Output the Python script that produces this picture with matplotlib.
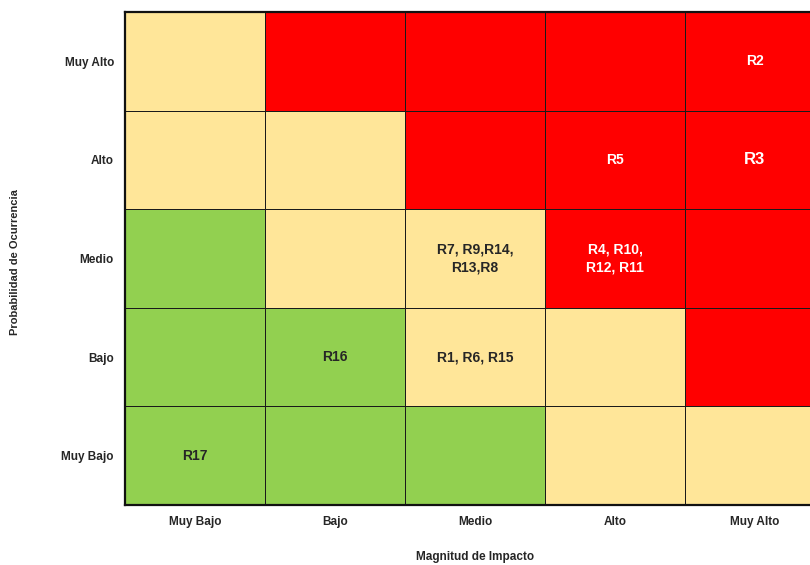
import matplotlib
matplotlib.use("Agg")
import matplotlib.pyplot as plt
from matplotlib.colors import ListedColormap
import numpy as np
from matplotlib import font_manager

names = {f.name for f in font_manager.fontManager.ttflist}
fam = ['Liberation Sans Narrow', 'Liberation Sans', 'DejaVu Sans'] if 'Liberation Sans Narrow' in names else ['Liberation Sans', 'DejaVu Sans']
plt.rcParams['font.family'] = fam

impact_labels = ["Muy Bajo", "Bajo", "Medio", "Alto", "Muy Alto"]
prob_labels = ["Muy Bajo", "Bajo", "Medio", "Alto", "Muy Alto"]  # bottom to top

# risk level per cell: rows = probability (bottom->top), cols = impact
# 0 = low (green), 1 = medium (yellow), 2 = high (red)
levels = [
    [0, 0, 0, 1, 1],  # Muy Bajo
    [0, 0, 1, 1, 2],  # Bajo
    [0, 1, 1, 2, 2],  # Medio
    [1, 1, 2, 2, 2],  # Alto
    [1, 2, 2, 2, 2],  # Muy Alto
]

risk_labels = [
    ("R17", 0, 0),
    ("R16", 1, 1),
    ("R1, R6, R15", 2, 1),
    ("R7, R9,R14,\nR13,R8", 2, 2),
    ("R4, R10,\nR12, R11", 3, 2),
    ("R5", 3, 3),
    ("R3", 4, 3),
    ("R2", 4, 4),
]

colors = ["#92D050", "#FFE699", "#FF0000"]
text_colors = {0: "#262626", 1: "#262626", 2: "white"}

fig = plt.figure(figsize=(8.1, 5.65), dpi=100)
ax = fig.add_axes([125/810, 1-505/565, 700/810, 493/565])

cmap = ListedColormap(colors)
arr = np.array(levels)
ax.pcolormesh(np.arange(6), np.arange(6), arr, cmap=cmap, vmin=-0.5, vmax=2.5,
              edgecolors="#1a1a1a", linewidth=0.55)
ax.set_xlim(0, 5)
ax.set_ylim(0, 5)

for txt, cx, cy in risk_labels:
    lvl = levels[cy][cx]
    size = 12 if txt == "R3" else 10
    ax.text(cx + 0.5, cy + 0.5, txt, ha="center", va="center",
            fontsize=size, fontweight="bold", color=text_colors[lvl], linespacing=1.3)

ax.set_xticks(np.arange(5) + 0.5)
ax.set_xticklabels(impact_labels, fontsize=8.5, fontweight="bold", color="#262626")
ax.set_yticks(np.arange(5) + 0.5)
ax.set_yticklabels(prob_labels, fontsize=8.5, fontweight="bold", color="#262626")
ax.tick_params(length=0, pad=8)

for sp in ax.spines.values():
    sp.set_linewidth(1.6)
    sp.set_color("#111111")

fig.text(15/810, 1-262/565, "Probabilidad de Ocurrencia", rotation=90, ha="center", va="center",
         fontsize=8, fontweight="bold", color="#262626")
fig.text(475/810, 1-557/565, "Magnitud de Impacto", ha="center", va="center",
         fontsize=8.5, fontweight="bold", color="#262626")

fig.savefig("out.png", dpi=100)
